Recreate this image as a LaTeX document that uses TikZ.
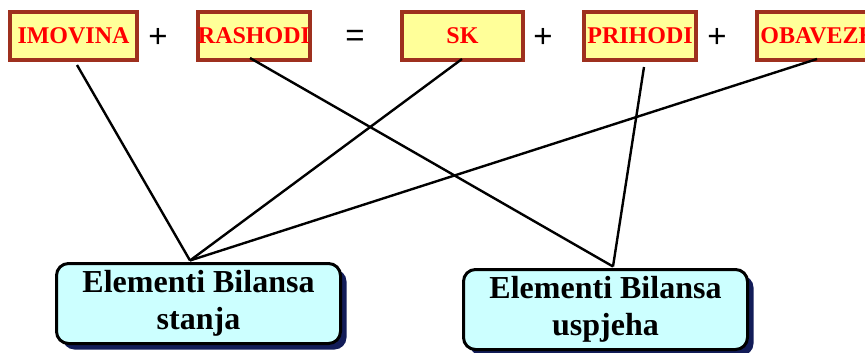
\documentclass[tikz,border=0pt]{standalone}
\usepackage{fontspec}
\setmainfont{Liberation Serif}
\newfontfamily\plusfont{Liberation Sans}
\usetikzlibrary{shadows,calc}
\definecolor{boxfill}{RGB}{255,255,153}
\definecolor{boxedge}{RGB}{158,48,30}
\definecolor{termred}{RGB}{255,0,0}
\definecolor{elemfill}{RGB}{204,255,255}
\definecolor{shadownavy}{RGB}{18,28,88}
\tikzset{
  term/.style={draw=boxedge, line width=4pt, fill=boxfill, inner sep=0pt,
    minimum height=48pt, text=termred,
    font=\bfseries\fontsize{24}{26}\selectfont},
  op/.style={font=\plusfont\fontsize{33}{35}\selectfont, inner sep=0pt},
  elem/.style={draw=black, line width=3pt, fill=elemfill, rounded corners=12pt,
    minimum width=284pt, minimum height=80pt, inner sep=0pt, align=center,
    font=\bfseries\fontsize{32}{37}\selectfont,
    drop shadow={shadow xshift=6pt, shadow yshift=-6pt, fill=shadownavy, opacity=1}},
  link/.style={line width=2.4pt, black}
}
\begin{document}
\begin{tikzpicture}[x=1pt,y=-1pt]
\useasboundingbox[fill=white] (0,0) rectangle (865,353);
\node[term, minimum width=127pt] (imovina) at (73.5,36) {IMOVINA};
\node[term, minimum width=112pt] (rashodi) at (254,36) {RASHODI};
\node[term, minimum width=121pt] (sk) at (462.5,36) {SK};
\node[term, minimum width=112pt] (prihodi) at (640,36) {PRIHODI};
\node[term, minimum width=121pt] (obaveze) at (817.5,36) {OBAVEZE};
\node[op] (p1) at (158,38) {+};
\node[op] (eq) at (355,38) {=};
\node[op] (p2) at (543,38) {+};
\node[op] (p3) at (717,38) {+};
\node[elem] (stanja) at (198.5,303.5) {Elementi Bilansa\\stanja};
\node[elem] (uspjeha) at (605.5,309.5) {Elementi Bilansa\\uspjeha};
\coordinate (s-top) at ($(stanja.north)+(-8.5,-1.5)$);
\coordinate (u-top) at ($(uspjeha.north)+(7.5,-1.5)$);
\draw[link] ($(imovina.south)+(3.5,3)$) -- (s-top);
\draw[link] ($(sk.south)+(-0.5,-3)$) -- (s-top);
\draw[link] ($(obaveze.south)+(-0.5,-3)$) -- (s-top);
\draw[link] ($(rashodi.south)+(-4,-4)$) -- (u-top);
\draw[link] ($(prihodi.south)+(4,5)$) -- (u-top);
\end{tikzpicture}
\end{document}
